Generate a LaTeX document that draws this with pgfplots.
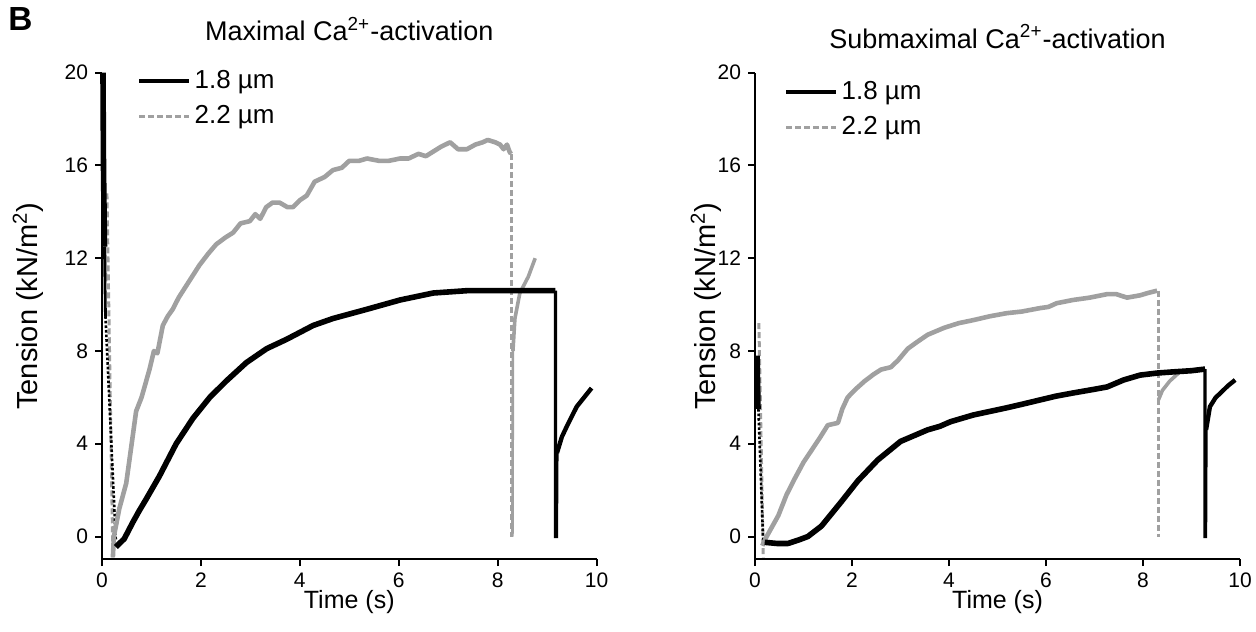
\documentclass[border=0pt]{standalone}
\usepackage{fontspec}
\setmainfont{Liberation Sans}
\usepackage{pgfplots}
\pgfplotsset{compat=1.18}
\definecolor{lgray}{RGB}{160,160,160}
\pgfplotsset{
  panel/.style={
    scale only axis,
    axis x line=bottom, axis y line=left,
    axis line style={-, line width=1pt},
    xmin=0, xmax=10, ymin=-0.97, ymax=20,
    xtick={0,2,4,6,8,10}, ytick={0,4,8,12,16,20},
    tick align=outside,
    major tick length=3.5pt,
    tick style={line width=1pt, black},
    tick label style={font=\fontsize{10.5}{12}\selectfont},
    /pgf/number format/assume math mode=true,
    xlabel={Time (s)},
    ylabel={Tension (kN/m\textsuperscript{2})},
    xlabel style={at={(axis description cs:0.5,-0.088)}, anchor=center, font=\fontsize{12.5}{14}\selectfont},
    ylabel style={font=\fontsize{14.5}{16}\selectfont},
    title style={anchor=base, yshift=-6pt, font=\fontsize{13.5}{16}\selectfont},
    clip=false,
    legend cell align=left,
    legend image code/.code={\draw[##1] (0pt,0pt) -- (25pt,0pt);},
  },
  bl/.style={black, line width=2.8pt, line join=round},
  gr/.style={lgray, line width=2.3pt, line join=round},
  gdash/.style={lgray, line width=1.5pt, dash pattern=on 3pt off 1.5pt},
}
\begin{document}
\begin{tikzpicture}
\path[use as bounding box] (0,0) rectangle (628pt,315.5pt);
\node[anchor=base west, font=\bfseries\fontsize{16.7}{18}\selectfont, inner sep=0pt] at (4pt,300pt) {B};

% ---------------- Left panel: maximal activation
\begin{axis}[panel,
  at={(51pt,36pt)}, anchor=south west,
  width=247.25pt, height=243.15pt,
  title={Maximal Ca\textsuperscript{2+}-activation},
  title style={at={(axis description cs:0.5,1.0657)}},
  ylabel style={at={(axis description cs:-0.1496,0.52)}, anchor=center},
  legend style={at={(axis description cs:0.0708,1.0097)}, anchor=north west,
    draw=none, fill=none, font=\fontsize{13}{15}\selectfont,
    row sep=5pt, column sep=1pt, inner sep=0pt, nodes={inner sep=1pt}},
]
\addlegendimage{black, line width=1.6pt}
\addlegendentry{1.8 µm}
\addlegendimage{lgray, line width=1.6pt, dash pattern=on 3pt off 1.5pt}
\addlegendentry{2.2 µm}
% 2.2 um initial transient (dashed)
\addplot[gdash, forget plot] coordinates {(0.10,14.8) (0.22,-0.9)};
\addplot[lgray, line width=1.5pt, forget plot] coordinates {(0.06,12.6) (0.08,11.0)};
% 1.8 um initial transient
\addplot[black, line width=2.8pt, forget plot] coordinates {(0.02,20) (0.03,16) (0.05,12.5)};
\addplot[black, line width=1.4pt, forget plot] coordinates {(0.05,12.5) (0.07,9.5)};
\addplot[black, line width=1.3pt, densely dotted, forget plot] coordinates {(0.07,9.5) (0.28,-0.2)};
% 2.2 um main trace
\addplot[gr, forget plot] coordinates {
(0.22,-0.9) (0.24,0.0) (0.35,1.2) (0.49,2.3) (0.6,4.0) (0.69,5.4) (0.8,6.0) (0.96,7.2)
(1.05,8.0) (1.12,7.9) (1.23,9.1) (1.33,9.5) (1.43,9.8) (1.55,10.3) (1.7,10.8)
(1.85,11.3) (1.97,11.7) (2.15,12.2) (2.31,12.6) (2.5,12.9) (2.65,13.1) (2.8,13.5)
(2.99,13.6) (3.1,13.9) (3.2,13.7) (3.32,14.2) (3.45,14.4) (3.59,14.4) (3.75,14.2)
(3.86,14.2) (4.0,14.5) (4.14,14.7) (4.3,15.3) (4.5,15.5) (4.67,15.8) (4.85,15.9)
(5.0,16.2) (5.2,16.2) (5.36,16.3) (5.6,16.2) (5.8,16.2) (6.03,16.3) (6.2,16.3)
(6.4,16.5) (6.55,16.4) (6.7,16.6) (6.85,16.8) (7.04,17.0) (7.2,16.7) (7.38,16.7)
(7.55,16.9) (7.7,17.0) (7.8,17.1) (7.95,17.0) (8.05,16.9) (8.12,16.7) (8.19,16.9)
(8.24,16.6) (8.27,16.5)};
% 2.2 um release and redevelopment
\addplot[gdash, forget plot] coordinates {(8.29,16.5) (8.29,0)};
\addplot[lgray, line width=1.3pt, forget plot] coordinates {(8.30,0) (8.31,8.0)};
\addplot[lgray, line width=1.8pt, forget plot] coordinates {
(8.31,8.0) (8.35,9.4) (8.45,10.5) (8.62,11.2) (8.76,12.0)};
% 1.8 um main trace
\addplot[bl, forget plot] coordinates {
(0.28,-0.45) (0.45,-0.1) (0.62,0.6) (0.75,1.1) (0.89,1.6) (1.16,2.6) (1.5,4.0)
(1.84,5.1) (2.18,6.0) (2.51,6.7) (2.92,7.5) (3.33,8.1) (3.73,8.5) (4.0,8.8)
(4.27,9.1) (4.67,9.4) (5.36,9.8) (6.03,10.2) (6.7,10.5) (7.38,10.6) (8.05,10.6)
(8.6,10.6) (9.17,10.6)};
% 1.8 um release and redevelopment
\addplot[black, line width=1.6pt, forget plot] coordinates {(9.17,10.6) (9.17,0) (9.19,0) (9.2,3.6)};
\addplot[black, line width=2.2pt, forget plot] coordinates {
(9.2,3.6) (9.3,4.3) (9.4,4.75) (9.6,5.6) (9.75,6.0) (9.9,6.4)};
\end{axis}

% ---------------- Right panel: submaximal activation
\begin{axis}[panel,
  at={(377.5pt,36pt)}, anchor=south west,
  width=242.5pt, height=243.15pt,
  title={Submaximal Ca\textsuperscript{2+}-activation},
  title style={at={(axis description cs:0.5,1.050)}},
  ylabel style={at={(axis description cs:-0.101,0.52)}, anchor=center},
  legend style={at={(axis description cs:0.0598,0.987)}, anchor=north west,
    draw=none, fill=none, font=\fontsize{13}{15}\selectfont,
    row sep=5pt, column sep=1pt, inner sep=0pt, nodes={inner sep=1pt}},
]
\addlegendimage{black, line width=1.6pt}
\addlegendentry{1.8 µm}
\addlegendimage{lgray, line width=1.6pt, dash pattern=on 3pt off 1.5pt}
\addlegendentry{2.2 µm}
% initial transients
\addplot[gdash, forget plot] coordinates {(0.08,9.2) (0.17,-0.9)};
\addplot[black, line width=2.4pt, forget plot] coordinates {(0.05,7.8) (0.07,5.5)};
\addplot[black, line width=1.3pt, densely dotted, forget plot] coordinates {(0.07,5.5) (0.17,-0.3)};
% 2.2 um main trace
\addplot[gr, forget plot] coordinates {
(0.15,-0.4) (0.24,0.0) (0.48,0.9) (0.65,1.8) (0.82,2.5) (1.0,3.2) (1.16,3.7) (1.35,4.3)
(1.5,4.8) (1.71,4.9) (1.8,5.5) (1.91,6.0) (2.1,6.4) (2.26,6.7) (2.45,7.0) (2.6,7.2) (2.8,7.3)
(2.95,7.6) (3.15,8.1) (3.35,8.4) (3.56,8.7) (3.9,9.0) (4.2,9.2) (4.5,9.33) (4.85,9.5)
(5.19,9.63) (5.5,9.7) (5.88,9.85) (6.05,9.9) (6.22,10.06) (6.56,10.2) (6.9,10.3)
(7.26,10.45) (7.45,10.45) (7.67,10.3) (7.94,10.4) (8.1,10.5) (8.29,10.6)};
% 2.2 um release and redevelopment
\addplot[gdash, forget plot] coordinates {(8.31,10.6) (8.31,0)};
\addplot[lgray, line width=1.8pt, forget plot] coordinates {
(8.32,5.9) (8.4,6.3) (8.55,6.7) (8.76,7.1)};
% 1.8 um main trace
\addplot[bl, forget plot] coordinates {
(0.2,-0.25) (0.45,-0.3) (0.68,-0.3) (0.9,-0.15) (1.09,0.0) (1.37,0.45) (1.78,1.5)
(2.12,2.4) (2.53,3.3) (3.0,4.1) (3.56,4.6) (3.81,4.75) (4.03,4.95) (4.5,5.24)
(5.19,5.55) (5.5,5.7) (5.88,5.89) (6.2,6.05) (6.56,6.19) (7.0,6.35) (7.26,6.45)
(7.6,6.75) (7.94,6.96) (8.3,7.05) (8.63,7.1) (9.0,7.15) (9.28,7.22)};
% 1.8 um release and redevelopment
\addplot[black, line width=1.6pt, forget plot] coordinates {(9.28,7.22) (9.28,0) (9.29,0) (9.3,4.6)};
\addplot[black, line width=2.2pt, forget plot] coordinates {
(9.3,4.6) (9.38,5.6) (9.5,6.0) (9.59,6.17) (9.75,6.5) (9.9,6.75)};
\end{axis}
\end{tikzpicture}
\end{document}
